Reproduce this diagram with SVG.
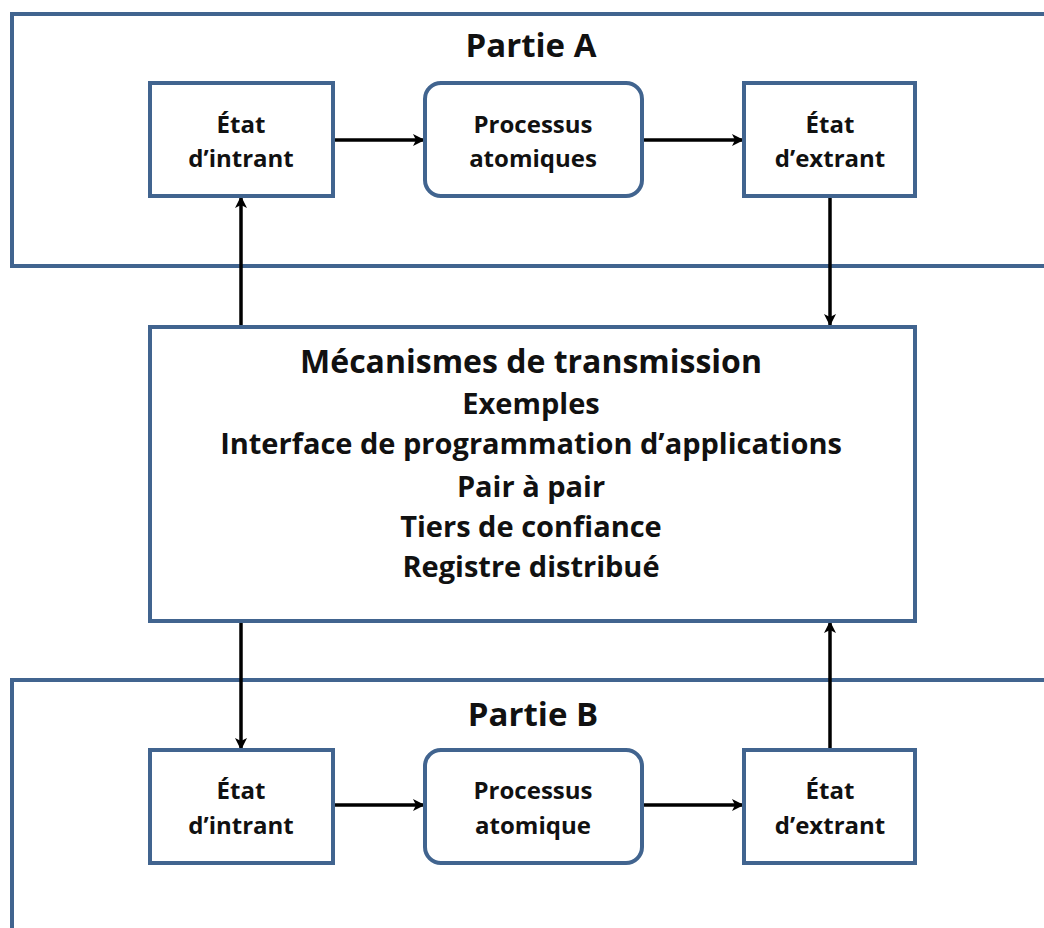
<svg xmlns="http://www.w3.org/2000/svg" width="1044" height="928" viewBox="0 0 1044 928">
<defs>
<style>
.frame{fill:none;stroke:#41648F;stroke-width:4}
.box{fill:#fff;stroke:#41648F;stroke-width:4}
.t{font-family:"Open Sans","Liberation Sans",sans-serif;font-weight:bold;fill:#111;text-anchor:middle;font-variant-ligatures:none}
.bt{font-size:24px}
.tt{font-size:33px}
.mt{font-size:29px}
.conn{stroke:#000;stroke-width:3.5;fill:none;marker-end:url(#ah)}
</style>
<marker id="ah" viewBox="0 0 12 12" refX="11" refY="6" markerWidth="12" markerHeight="12" markerUnits="userSpaceOnUse" orient="auto">
<path d="M0,0 L12,6 L0,12 L3,6 Z" fill="#000"/>
</marker>
</defs>
<rect width="1044" height="928" fill="#fff"/>
<g id="partieA">
<path class="frame" d="M1050,14 H12 V266 H1050"/>
<text class="t tt" x="531" y="57">Partie A</text>
</g>
<g id="partieB">
<path class="frame" d="M1050,680 H12 V935"/>
<text class="t tt" x="533" y="726">Partie B</text>
</g>
<g id="connectors">
<line class="conn" x1="333" y1="140" x2="424" y2="140"/>
<line class="conn" x1="642" y1="140" x2="743" y2="140"/>
<line class="conn" x1="241" y1="326" x2="241" y2="197"/>
<line class="conn" x1="830" y1="196" x2="830" y2="325"/>
<line class="conn" x1="241" y1="621" x2="241" y2="749"/>
<line class="conn" x1="830" y1="750" x2="830" y2="622"/>
<line class="conn" x1="333" y1="805" x2="424" y2="805"/>
<line class="conn" x1="642" y1="805" x2="743" y2="805"/>
</g>
<g id="intrantA">
<rect class="box" x="150" y="83" width="183" height="113"/>
<text class="t bt" x="241" y="133">État</text>
<text class="t bt" x="241" y="167">d’intrant</text>
</g>
<g id="processusA">
<rect class="box" x="425" y="83" width="217" height="113" rx="16"/>
<text class="t bt" x="533" y="133">Processus</text>
<text class="t bt" x="533" y="167">atomiques</text>
</g>
<g id="extrantA">
<rect class="box" x="744" y="83" width="171" height="113"/>
<text class="t bt" x="830" y="133">État</text>
<text class="t bt" x="830" y="167">d’extrant</text>
</g>
<g id="mecanismes">
<rect class="box" x="150" y="327" width="765" height="294"/>
<text class="t" font-size="32" x="531" y="373">Mécanismes de transmission</text>
<text class="t mt" x="531" y="414">Exemples</text>
<text class="t mt" x="531" y="454">Interface de programmation d’applications</text>
<text class="t mt" x="531" y="497">Pair à pair</text>
<text class="t mt" x="531" y="537">Tiers de confiance</text>
<text class="t mt" x="531" y="577">Registre distribué</text>
</g>
<g id="intrantB">
<rect class="box" x="150" y="750" width="183" height="113"/>
<text class="t bt" x="241" y="799">État</text>
<text class="t bt" x="241" y="834">d’intrant</text>
</g>
<g id="processusB">
<rect class="box" x="425" y="750" width="217" height="113" rx="16"/>
<text class="t bt" x="533" y="799">Processus</text>
<text class="t bt" x="533" y="834">atomique</text>
</g>
<g id="extrantB">
<rect class="box" x="744" y="750" width="171" height="113"/>
<text class="t bt" x="830" y="799">État</text>
<text class="t bt" x="830" y="834">d’extrant</text>
</g>
</svg>
